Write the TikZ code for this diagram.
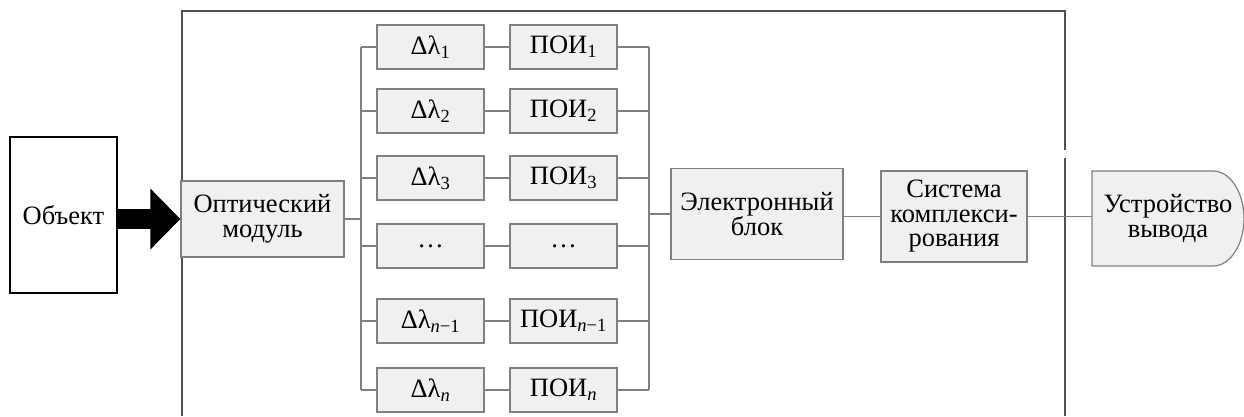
\documentclass[tikz,border=0pt]{standalone}
\usepackage{fontspec}
\setmainfont{Liberation Serif}
\usetikzlibrary{arrows.meta}
\definecolor{boxfill}{HTML}{F0F0F0}
\definecolor{boxline}{HTML}{808080}
\definecolor{frameline}{HTML}{505050}
\begin{document}
\begin{tikzpicture}[x=1pt,y=-1pt,
  every node/.style={font=\fontsize{26.5}{24.5}\selectfont, align=center, inner sep=0pt},
  blk/.style={draw=boxline, fill=boxfill, line width=1.2pt, minimum width=#1},
  blk/.default=107pt,
  wire/.style={draw=boxline, line width=1.3pt},
  frm/.style={draw=frameline, line width=1.4pt}]
\useasboundingbox (0,0) rectangle (1244,416);
% frame
\draw[frm] (182,416) -- (182,11) -- (1065,11) -- (1065,150);
\draw[frm] (1065,158) -- (1065,416);
% object
\node[draw=black, line width=1.6pt, minimum width=107pt, minimum height=156pt] (obj) at (63.5,215) {Объект};
\node[blk=163pt, minimum height=76pt] (opt) at (262.5,219) {Оптический\\модуль};
\draw[line width=20pt, -{Triangle[length=30pt,width=59pt]}] (obj.east |- opt.west) -- (opt.west);
% rows
\foreach \i/\y/\a/\b in {1/47/{Δλ\textsubscript{1}}/{ПОИ\textsubscript{1}},
  2/111/{Δλ\textsubscript{2}}/{ПОИ\textsubscript{2}},
  3/178/{Δλ\textsubscript{3}}/{ПОИ\textsubscript{3}},
  4/246/{…}/{…},
  5/321/{Δλ\textsubscript{\textit{n}−1}}/{ПОИ\textsubscript{\textit{n}−1}},
  6/390/{Δλ\textsubscript{\textit{n}}}/{ПОИ\textsubscript{\textit{n}}}}{
  \node[blk, minimum height=44pt] (dl\i) at (430.5,\y) {\a};
  \node[blk, minimum height=44pt] (poi\i) at (563.5,\y) {\b};
  \draw[wire] (dl\i.east) -- (poi\i.west);
}
\coordinate (bl) at (361,0);
\coordinate (br) at (649,0);
\draw[wire] (opt.east) -- (opt.east -| bl);
\draw[wire] (bl |- dl1.west) -- (bl |- dl6.west);
\foreach \i in {1,...,6}{
  \draw[wire] (bl |- dl\i.west) -- (dl\i.west);
  \draw[wire] (poi\i.east) -- (br |- poi\i.east);
}
\draw[wire] (br |- poi1.east) -- (br |- poi6.east);
\node[blk=172pt, minimum height=91pt] (el) at (757,214) {Электронный\\блок};
\draw[wire] (br |- el.west) -- (el.west);
\node[blk=146pt, minimum height=91pt] (sys) at (954,216.5) {Система\\комплекси-\\рования};
\draw[wire] (el.east |- sys.west) -- (sys.west);
\coordinate (outnw) at (1092,171);
\coordinate (outse) at (1244,266);
\fill[boxfill] (outnw) -- (1213,171) arc[start angle=90, end angle=-90, x radius=31pt, y radius=47.5pt] -- (outnw |- outse) -- cycle;
\draw[boxline, line width=1.2pt] (outnw) -- (1213,171) arc[start angle=90, end angle=-90, x radius=31pt, y radius=47.5pt] -- (outnw |- outse) -- cycle;
\node[minimum width=152pt, minimum height=95pt] (out) at (1168,218.5) {Устройство\\вывода};
\draw[wire] (sys.east) -- (sys.east -| out.west);
\end{tikzpicture}
\end{document}
